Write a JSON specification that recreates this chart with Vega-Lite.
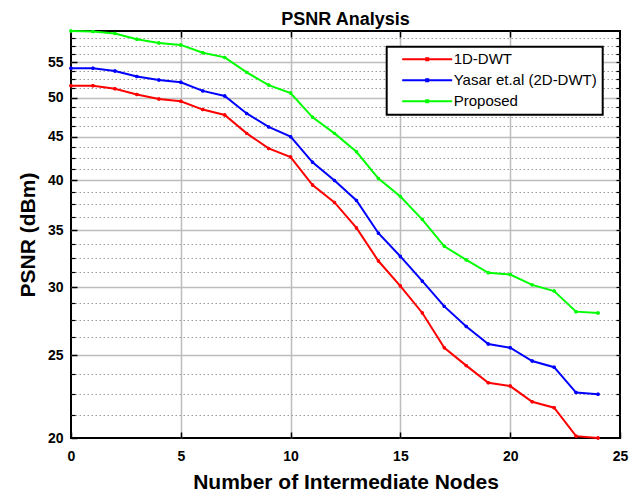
{
  "$schema": "https://vega.github.io/schema/vega-lite/v6.json",
  "width": 549,
  "height": 407,
  "autosize": "none",
  "padding": {"left": 71, "top": 31, "right": 19, "bottom": 58},
  "background": "white",
  "config": {
    "font": "Liberation Sans",
    "view": {"stroke": "black", "strokeWidth": 2},
    "legend": {"labelFontSize": 15, "labelColor": "black", "labelFont": "Liberation Sans"}
  },
  "title": {"text": "PSNR Analysis", "fontSize": 18, "fontWeight": "bold", "baseline": "alphabetic", "offset": -16, "anchor": "middle", "color": "black"},
  "data": {"values": [
    {"x":0,"psnr":51.6,"method":"1D-DWT"},{"x":1,"psnr":51.6,"method":"1D-DWT"},{"x":2,"psnr":51.2,"method":"1D-DWT"},{"x":3,"psnr":50.4,"method":"1D-DWT"},{"x":4,"psnr":49.8,"method":"1D-DWT"},
    {"x":5,"psnr":49.5,"method":"1D-DWT"},{"x":6,"psnr":48.4,"method":"1D-DWT"},{"x":7,"psnr":47.7,"method":"1D-DWT"},{"x":8,"psnr":45.4,"method":"1D-DWT"},{"x":9,"psnr":43.6,"method":"1D-DWT"},
    {"x":10,"psnr":42.6,"method":"1D-DWT"},{"x":11,"psnr":39.5,"method":"1D-DWT"},{"x":12,"psnr":37.7,"method":"1D-DWT"},{"x":13,"psnr":35.2,"method":"1D-DWT"},{"x":14,"psnr":32.2,"method":"1D-DWT"},
    {"x":15,"psnr":30.1,"method":"1D-DWT"},{"x":16,"psnr":28.0,"method":"1D-DWT"},{"x":17,"psnr":25.5,"method":"1D-DWT"},{"x":18,"psnr":24.3,"method":"1D-DWT"},{"x":19,"psnr":23.2,"method":"1D-DWT"},
    {"x":20,"psnr":23.0,"method":"1D-DWT"},{"x":21,"psnr":22.05,"method":"1D-DWT"},{"x":22,"psnr":21.7,"method":"1D-DWT"},{"x":23,"psnr":20.1,"method":"1D-DWT"},{"x":24,"psnr":20.0,"method":"1D-DWT"},
    {"x":0,"psnr":54.1,"method":"Yasar et.al (2D-DWT)"},{"x":1,"psnr":54.1,"method":"Yasar et.al (2D-DWT)"},{"x":2,"psnr":53.7,"method":"Yasar et.al (2D-DWT)"},{"x":3,"psnr":52.9,"method":"Yasar et.al (2D-DWT)"},{"x":4,"psnr":52.4,"method":"Yasar et.al (2D-DWT)"},
    {"x":5,"psnr":52.1,"method":"Yasar et.al (2D-DWT)"},{"x":6,"psnr":50.9,"method":"Yasar et.al (2D-DWT)"},{"x":7,"psnr":50.2,"method":"Yasar et.al (2D-DWT)"},{"x":8,"psnr":47.9,"method":"Yasar et.al (2D-DWT)"},{"x":9,"psnr":46.2,"method":"Yasar et.al (2D-DWT)"},
    {"x":10,"psnr":45.0,"method":"Yasar et.al (2D-DWT)"},{"x":11,"psnr":42.0,"method":"Yasar et.al (2D-DWT)"},{"x":12,"psnr":40.0,"method":"Yasar et.al (2D-DWT)"},{"x":13,"psnr":37.9,"method":"Yasar et.al (2D-DWT)"},{"x":14,"psnr":34.7,"method":"Yasar et.al (2D-DWT)"},
    {"x":15,"psnr":32.6,"method":"Yasar et.al (2D-DWT)"},{"x":16,"psnr":30.5,"method":"Yasar et.al (2D-DWT)"},{"x":17,"psnr":28.5,"method":"Yasar et.al (2D-DWT)"},{"x":18,"psnr":27.0,"method":"Yasar et.al (2D-DWT)"},{"x":19,"psnr":25.75,"method":"Yasar et.al (2D-DWT)"},
    {"x":20,"psnr":25.5,"method":"Yasar et.al (2D-DWT)"},{"x":21,"psnr":24.6,"method":"Yasar et.al (2D-DWT)"},{"x":22,"psnr":24.2,"method":"Yasar et.al (2D-DWT)"},{"x":23,"psnr":22.6,"method":"Yasar et.al (2D-DWT)"},{"x":24,"psnr":22.5,"method":"Yasar et.al (2D-DWT)"},
    {"x":0,"psnr":59.8,"method":"Proposed"},{"x":1,"psnr":59.7,"method":"Proposed"},{"x":2,"psnr":59.4,"method":"Proposed"},{"x":3,"psnr":58.5,"method":"Proposed"},{"x":4,"psnr":57.9,"method":"Proposed"},
    {"x":5,"psnr":57.6,"method":"Proposed"},{"x":6,"psnr":56.4,"method":"Proposed"},{"x":7,"psnr":55.7,"method":"Proposed"},{"x":8,"psnr":53.5,"method":"Proposed"},{"x":9,"psnr":51.7,"method":"Proposed"},
    {"x":10,"psnr":50.6,"method":"Proposed"},{"x":11,"psnr":47.4,"method":"Proposed"},{"x":12,"psnr":45.4,"method":"Proposed"},{"x":13,"psnr":43.2,"method":"Proposed"},{"x":14,"psnr":40.2,"method":"Proposed"},
    {"x":15,"psnr":38.3,"method":"Proposed"},{"x":16,"psnr":36.0,"method":"Proposed"},{"x":17,"psnr":33.5,"method":"Proposed"},{"x":18,"psnr":32.3,"method":"Proposed"},{"x":19,"psnr":31.2,"method":"Proposed"},
    {"x":20,"psnr":31.05,"method":"Proposed"},{"x":21,"psnr":30.2,"method":"Proposed"},{"x":22,"psnr":29.7,"method":"Proposed"},{"x":23,"psnr":28.1,"method":"Proposed"},{"x":24,"psnr":28.0,"method":"Proposed"}
  ]},
  "layer": [
    {
      "mark": {"type": "line", "strokeWidth": 2},
      "encoding": {
        "x": {"field": "x", "type": "quantitative", "scale": {"domain": [0, 25], "nice": false, "zero": false},
          "axis": {"orient": "bottom", "title": "Number of Intermediate Nodes", "values": [0, 5, 10, 15, 20, 25], "format": "d",
            "grid": true, "gridColor": {"condition": {"test": "datum.value === 0 || datum.value === 25", "value": "transparent"}, "value": "#bdbdbd"}, "gridWidth": 1.5,
            "domain": false, "ticks": true, "tickSize": -6, "tickColor": "black", "tickWidth": 1.5,
            "labelPadding": 17, "labelFontSize": 14, "labelFontWeight": "bold", "labelColor": "black", "labelFlush": false, "labelOverlap": false,
            "titleFontSize": 21, "titleFontWeight": "bold", "titleColor": "black", "titlePadding": 8}},
        "y": {"field": "psnr", "type": "quantitative", "scale": {"type": "log", "domain": [20, 59.8], "nice": false},
          "axis": {"orient": "left", "title": "PSNR (dBm)", "values": [20, 25, 30, 35, 40, 45, 50, 55], "format": "d",
            "grid": true, "gridColor": {"condition": {"test": "datum.value === 20", "value": "transparent"}, "value": "#bdbdbd"}, "gridWidth": 1.5,
            "domain": false, "ticks": true, "tickSize": -6, "tickColor": "black", "tickWidth": 1.5,
            "labelPadding": 14, "labelFontSize": 14, "labelFontWeight": "bold", "labelColor": "black", "labelFlush": false, "labelOverlap": false,
            "titleFontSize": 21, "titleFontWeight": "bold", "titleColor": "black", "titlePadding": 9}},
        "color": {"field": "method", "type": "nominal",
          "scale": {"domain": ["1D-DWT", "Yasar et.al (2D-DWT)", "Proposed"], "range": ["#ff0000", "#0000ff", "#00ff00"]},
          "legend": {"title": null, "orient": "none", "legendX": 315.7, "legendY": 15.7, "fillColor": "white", "strokeColor": "black", "padding": 5,
            "symbolType": "M-5,0H5M-0.2,-0.2H0.2V0.2H-0.2Z", "symbolSize": 100, "symbolStrokeWidth": 2, "symbolOffset": 28,
            "labelOffset": 19, "labelFontSize": 15, "labelColor": "black", "rowPadding": 5,
            "encode": {"legend": {"update": {"strokeWidth": {"value": 2}}}}}}
      }
    },
    {
      "mark": {"type": "point", "filled": true, "size": 12, "opacity": 1},
      "encoding": {
        "x": {"field": "x", "type": "quantitative",
          "axis": {"orient": "top", "title": null, "values": [5, 10, 15, 20], "labels": false, "grid": false, "domain": false, "ticks": true, "tickSize": -6, "tickColor": "black", "tickWidth": 1.5}},
        "y": {"field": "psnr", "type": "quantitative",
          "axis": {"orient": "left", "title": null, "values": [21.25, 22.5, 23.75, 26.25, 27.5, 28.75, 31.25, 32.5, 33.75, 36.25, 37.5, 38.75, 41.25, 42.5, 43.75, 46.25, 47.5, 48.75, 51.25, 52.5, 53.75, 56.25, 57.5, 58.75],
            "labels": false, "domain": false, "grid": true, "gridColor": "#999999", "gridDash": [1.5, 2.5], "gridWidth": 1.2, "ticks": true, "tickSize": -4, "tickColor": "black", "tickWidth": 1.2}},
        "color": {"field": "method", "type": "nominal", "legend": null}
      }
    },
    {
      "mark": {"type": "point", "filled": true, "size": 12, "opacity": 1},
      "encoding": {
        "x": {"field": "x", "type": "quantitative", "axis": null},
        "y": {"field": "psnr", "type": "quantitative",
          "axis": {"orient": "right", "title": null, "values": [21.25, 22.5, 23.75, 25, 26.25, 27.5, 28.75, 30, 31.25, 32.5, 33.75, 35, 36.25, 37.5, 38.75, 40, 41.25, 42.5, 43.75, 45, 46.25, 47.5, 48.75, 50, 51.25, 52.5, 53.75, 55, 56.25, 57.5, 58.75],
            "labels": false, "domain": false, "grid": false, "ticks": true, "tickSize": -4, "tickColor": "black", "tickWidth": 1.2}},
        "color": {"field": "method", "type": "nominal", "legend": null}
      }
    }
  ],
  "resolve": {"axis": {"x": "independent", "y": "independent"}}
}
